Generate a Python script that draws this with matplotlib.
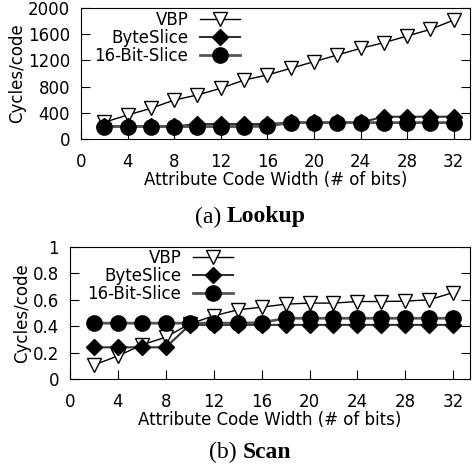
import matplotlib
matplotlib.use("Agg")
import matplotlib.pyplot as plt

bits = [2, 4, 6, 8, 10, 12, 14, 16, 18, 20, 22, 24, 26, 28, 30, 32]

# (a) Lookup, cycles/code
lookup_vbp = [255, 366, 468, 595, 672, 774, 900, 977, 1079, 1180, 1282, 1384, 1470, 1572, 1674, 1816]
lookup_byte = [195, 195, 195, 195, 228, 228, 228, 228, 252, 252, 252, 252, 340, 340, 340, 340]
lookup_16bit = [190, 190, 190, 190, 190, 190, 190, 195, 250, 250, 250, 250, 250, 250, 250, 250]

# (b) Scan, cycles/code
scan_vbp = [0.106, 0.175, 0.258, 0.317, 0.418, 0.478, 0.524, 0.544, 0.567, 0.575, 0.575, 0.587, 0.587, 0.59, 0.60, 0.655]
scan_byte = [0.24, 0.24, 0.24, 0.24, 0.41, 0.41, 0.41, 0.41, 0.41, 0.41, 0.41, 0.41, 0.41, 0.41, 0.41, 0.41]
scan_16bit = [0.423, 0.423, 0.423, 0.423, 0.423, 0.423, 0.423, 0.427, 0.46, 0.46, 0.46, 0.46, 0.46, 0.46, 0.46, 0.46]

labels = ['VBP', 'ByteSlice', '16-Bit-Slice']

plt.rcParams['font.family'] = 'DejaVu Sans'
plt.rcParams['font.size'] = 12

fig = plt.figure(figsize=(4.74, 4.67), dpi=100)
W, H = 474, 467


def add_axes(left, top, right, bottom):
    return fig.add_axes([left / W, 1 - bottom / H, (right - left) / W, (bottom - top) / H])


def draw(ax, vbp, byte, b16, legend_corner):
    ax.plot(bits, vbp, color='black', lw=1.0, marker='v', ms=9.5,
            mfc='white', mec='black', mew=1.0, label=labels[0])
    ax.plot(bits, byte, color='#333333', lw=1.5, marker='D', ms=8,
            mfc='black', mec='black', label=labels[1])
    ax.plot(bits, b16, color='#555555', lw=2.0, marker='o', ms=11,
            mfc='black', mec='black', label=labels[2])
    ax.set_xlim(0, 33.4)
    ax.set_xticks(range(0, 33, 4))
    ax.tick_params(axis='x', direction='in', length=6.5, pad=10, top=False)
    ax.tick_params(axis='y', direction='in', length=6.5, pad=8, right=True)
    ax.set_xlabel('Attribute Code Width (# of bits)', labelpad=0)
    ax.set_ylabel('Cycles/code', labelpad=1)
    ax.legend(loc='upper right', bbox_to_anchor=(legend_corner[0] / W, 1 - legend_corner[1] / H),
              bbox_transform=fig.transFigure, frameon=False, markerfirst=False,
              handlelength=2.4, handletextpad=0.7, labelspacing=0.0,
              borderpad=0, borderaxespad=0, fontsize=12)


ax1 = add_axes(81, 8, 470, 139)
draw(ax1, lookup_vbp, lookup_byte, lookup_16bit, (240, 11))
ax1.set_ylim(0, 2000)
ax1.set_yticks(range(0, 2001, 400))

ax2 = add_axes(70, 247, 470, 379)
draw(ax2, scan_vbp, scan_byte, scan_16bit, (233, 249))
ax2.set_ylim(0, 1)
ax2.set_yticks([0, 0.2, 0.4, 0.6, 0.8, 1])
ax2.set_yticklabels(['0', '0.2', '0.4', '0.6', '0.8', '1'])

serif = 'Liberation Serif'
fig.text(227 / W, 1 - 217 / H, '(a) ', ha='right', va='center', family=serif, fontsize=17)
fig.text(227 / W, 1 - 217 / H, 'Lookup', ha='left', va='center', family=serif, fontsize=17, weight='bold')
fig.text(243 / W, 1 - 452 / H, '(b) ', ha='right', va='center', family=serif, fontsize=17)
fig.text(243 / W, 1 - 452 / H, 'Scan', ha='left', va='center', family=serif, fontsize=17, weight='bold')

fig.savefig('out.png', dpi=100)
